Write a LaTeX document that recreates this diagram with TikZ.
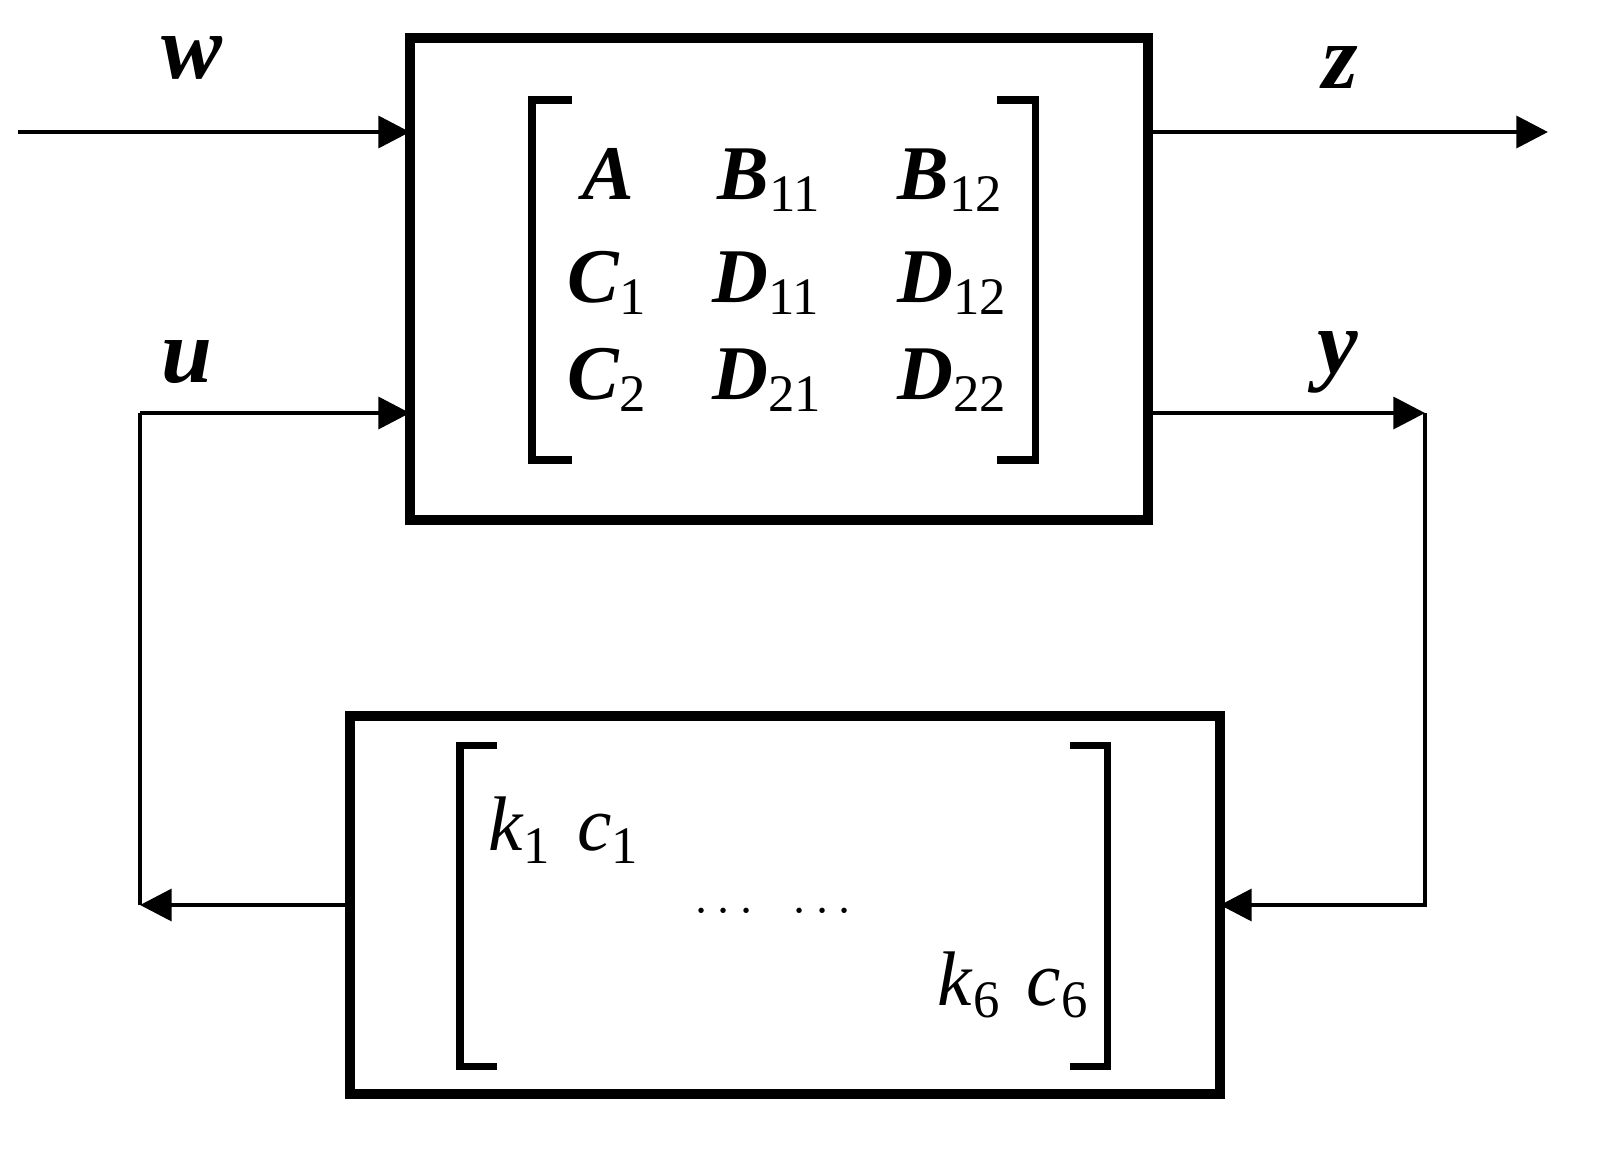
\documentclass[tikz,border=0pt]{standalone}
\usepackage{fontspec}
\setmainfont{Liberation Serif}
\usetikzlibrary{arrows.meta}
\newcommand{\Bi}[2]{\textbf{\textit{#1}}\raisebox{-0.35ex}{\fontsize{15}{15}\selectfont #2}}
\newcommand{\Li}[2]{\textit{#1}\raisebox{-0.35ex}{\fontsize{15}{15}\selectfont #2}}
\begin{document}
\begin{tikzpicture}[x=0.01cm,y=-0.01cm,
  sig/.style={line width=1.3pt,-{Triangle[length=9pt,width=9pt]}},
  wire/.style={line width=1.3pt},
  box/.style={line width=2.6pt},
  brk/.style={line width=2pt},
  lbl/.style={font=\fontsize{26}{30}\selectfont\bfseries\itshape},
  ent/.style={font=\fontsize{22}{26}\selectfont}]
\useasboundingbox (0,0) rectangle (1619,1157);
\draw[box] (410,38) rectangle (1148,520);
\draw[box] (350,716) rectangle (1220,1094);
\coordinate (win) at (18,132); \coordinate (wend) at (410,132);
\coordinate (zs) at (1148,132); \coordinate (ze) at (1548,132);
\draw[sig] (win) -- (wend);
\draw[sig] (zs) -- (ze);
\coordinate (ul) at (140,905); \coordinate (kl) at (350,905);
\coordinate (uc) at (140,413); \coordinate (ue) at (410,413);
\draw[sig] (kl) -- (ul);
\draw[sig] (uc) -- (ue);
\draw[wire] (ul) -- (uc);
\coordinate (ys) at (1148,413); \coordinate (yc) at (1425,413);
\coordinate (yd) at (1425,905); \coordinate (ke) at (1220,905);
\draw[sig] (ys) -- (yc);
\draw[sig] (yc) -- (yd) -- (ke);
\node[lbl] (w) at (192,58) {w};
\node[lbl] (z) at (1340,68) {z};
\node[lbl] (u) at (187,362) {u};
\node[lbl] (y) at (1338,362) {y};
% top matrix brackets
\draw[brk] (572,100) -- (532,100) -- (532,460) -- (572,460);
\draw[brk] (997,100) -- (1035,100) -- (1035,460) -- (997,460);
\node[ent,anchor=west] (a) at (570,180) {\Bi{A}{}};
\node[ent,anchor=west] (b11) at (705,180) {\Bi{B}{11}};
\node[ent,anchor=west] (b12) at (885,180) {\Bi{B}{12}};
\node[ent,anchor=west] (c1) at (555,283) {\Bi{C}{1}};
\node[ent,anchor=west] (d11) at (700,283) {\Bi{D}{11}};
\node[ent,anchor=west] (d12) at (885,283) {\Bi{D}{12}};
\node[ent,anchor=west] (c2) at (555,380) {\Bi{C}{2}};
\node[ent,anchor=west] (d21) at (700,380) {\Bi{D}{21}};
\node[ent,anchor=west] (d22) at (885,380) {\Bi{D}{22}};
% bottom matrix
\draw[brk] (497,745) -- (460,745) -- (460,1066) -- (497,1066);
\draw[brk] (1070,745) -- (1107,745) -- (1107,1066) -- (1070,1066);
\node[ent,anchor=west] (k1) at (476,830) {\Li{k}{1}\hspace{0.35em}\Li{c}{1}};
\node[font=\fontsize{14}{16}\selectfont] (dots) at (773,912) {$\cdots$\hspace{0.8em}$\cdots$};
\node[ent,anchor=east] (k6) at (1100,985) {\Li{k}{6}\hspace{0.35em}\Li{c}{6}};
\end{tikzpicture}
\end{document}
